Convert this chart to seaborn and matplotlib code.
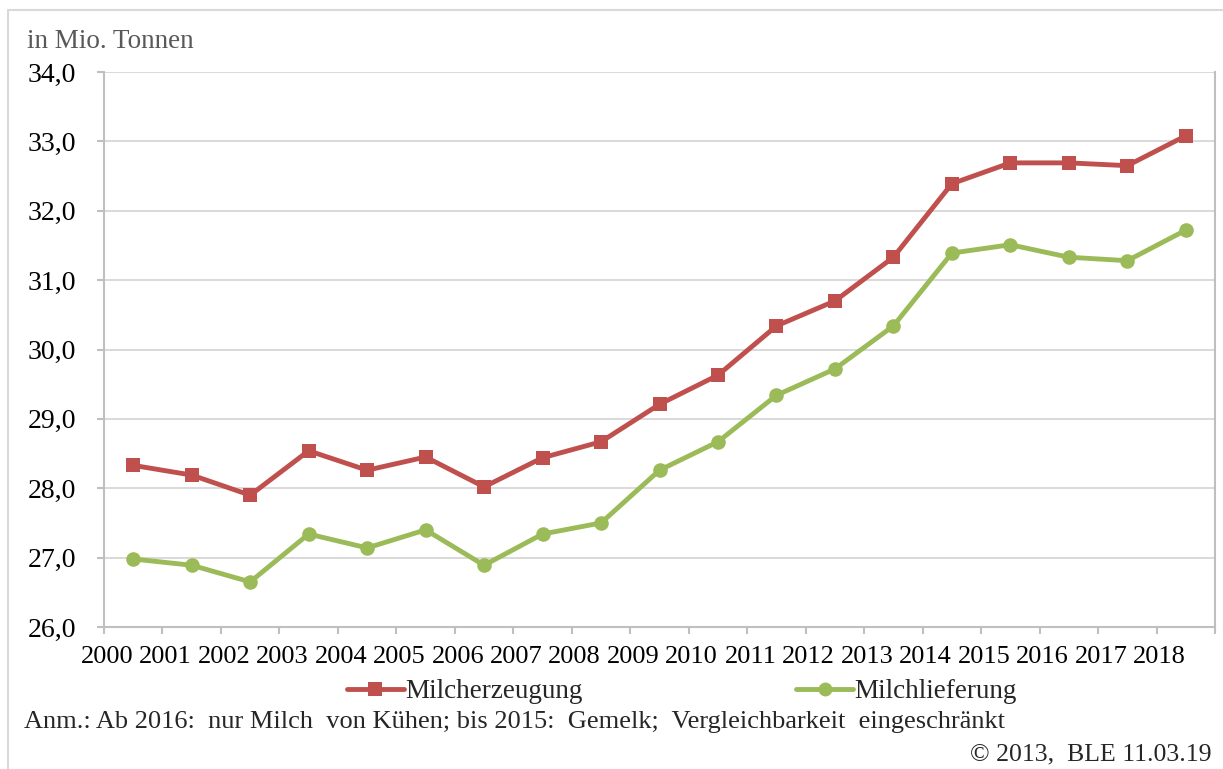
import numpy as np
import pandas as pd
import seaborn as sns
import matplotlib.pyplot as plt
from matplotlib.lines import Line2D
from matplotlib.ticker import FuncFormatter

jahre = [str(j) for j in range(2000, 2019)]
milcherzeugung = [28.33, 28.19, 27.90, 28.54, 28.26, 28.45, 28.02, 28.44, 28.67, 29.21,
                  29.63, 30.34, 30.70, 31.33, 32.39, 32.69, 32.69, 32.65, 33.08]
milchlieferung = [26.98, 26.89, 26.65, 27.34, 27.14, 27.40, 26.89, 27.34, 27.50, 28.26,
                  28.67, 29.34, 29.72, 30.34, 31.39, 31.51, 31.33, 31.28, 31.72]

rot = '#C0504D'
gruen = '#9BBB59'
grau = '#BFBFBF'

sns.set_style('white')
plt.rcParams['font.family'] = ['Liberation Serif', 'DejaVu Serif']

pos = np.arange(len(jahre))
df = pd.DataFrame({'pos': pos, 'erz': milcherzeugung, 'lief': milchlieferung})

fig = plt.figure(figsize=(12.23, 7.69), dpi=100)
ax = fig.add_axes([104/1223, 1-627/769, (1215-104)/1223, (627-72)/769])

sns.lineplot(data=df, x='pos', y='erz', ax=ax, color=rot, lw=3.5, marker='s',
             markersize=10.5, markeredgewidth=0, zorder=3)
sns.lineplot(data=df, x='pos', y='lief', ax=ax, color=gruen, lw=3.5, marker='o',
             markersize=10.5, markeredgewidth=0, zorder=3)

ax.set_xlim(-0.5, len(jahre) - 0.5)
ax.set_ylim(26, 34)
ax.set_yticks(np.arange(26, 34.1, 1))
ax.yaxis.set_major_formatter(FuncFormatter(lambda v, p: '{:.1f}'.format(v).replace('.', ',')))
ax.set_xticks(pos)
ax.set_xticklabels(jahre, ha='right')
ax.set_xticks(np.arange(-0.5, len(jahre), 1), minor=True)
ax.set_xlabel('')
ax.set_ylabel('')

ax.grid(axis='y', color='#D9D9D9', lw=1.4)
ax.set_axisbelow(True)
for s in ['left', 'bottom', 'right']:
    ax.spines[s].set_color(grau)
    ax.spines[s].set_linewidth(1.5)
ax.spines['top'].set_visible(False)

ax.tick_params(axis='y', length=5, width=1.5, color=grau, pad=15, labelsize=20, labelcolor='black', left=True)
ax.tick_params(axis='x', which='major', length=0, pad=14, labelsize=19, labelcolor='black')
ax.tick_params(axis='x', which='minor', length=5, width=1.5, color=grau, bottom=True)

fig.text(27/1223, 1-42/769, 'in Mio. Tonnen', fontsize=19.5, color='#595959', va='center', ha='left')

handles = [Line2D([], [], color=rot, lw=3.5, marker='s', markersize=10.5, markeredgewidth=0),
           Line2D([], [], color=gruen, lw=3.5, marker='o', markersize=10, markeredgewidth=0)]
fig.legend(handles, ['Milcherzeugung', 'Milchlieferung'], loc='center', ncol=2,
           bbox_to_anchor=(682/1223, 1-692/769), frameon=False, fontsize=19.5,
           handlelength=2.1, handletextpad=0.05, columnspacing=7.9)

fig.text(24/1223, 1-722/769,
         'Anm.: Ab 2016:  nur Milch  von Kühen; bis 2015:  Gemelk;  Vergleichbarkeit  eingeschränkt',
         fontsize=19, ha='left', va='center')
fig.text(1212/1223, 1-754/769, '© 2013,  BLE 11.03.19', fontsize=18.5, ha='right', va='center')

# Rahmen um das Diagramm
fig.add_artist(Line2D([8/1223, 1], [1-10/769, 1-10/769], color='#D9D9D9', lw=1.5))
fig.add_artist(Line2D([8/1223, 8/1223], [0, 1-10/769], color='#D9D9D9', lw=1.5))

plt.savefig('out.png', dpi=100)
